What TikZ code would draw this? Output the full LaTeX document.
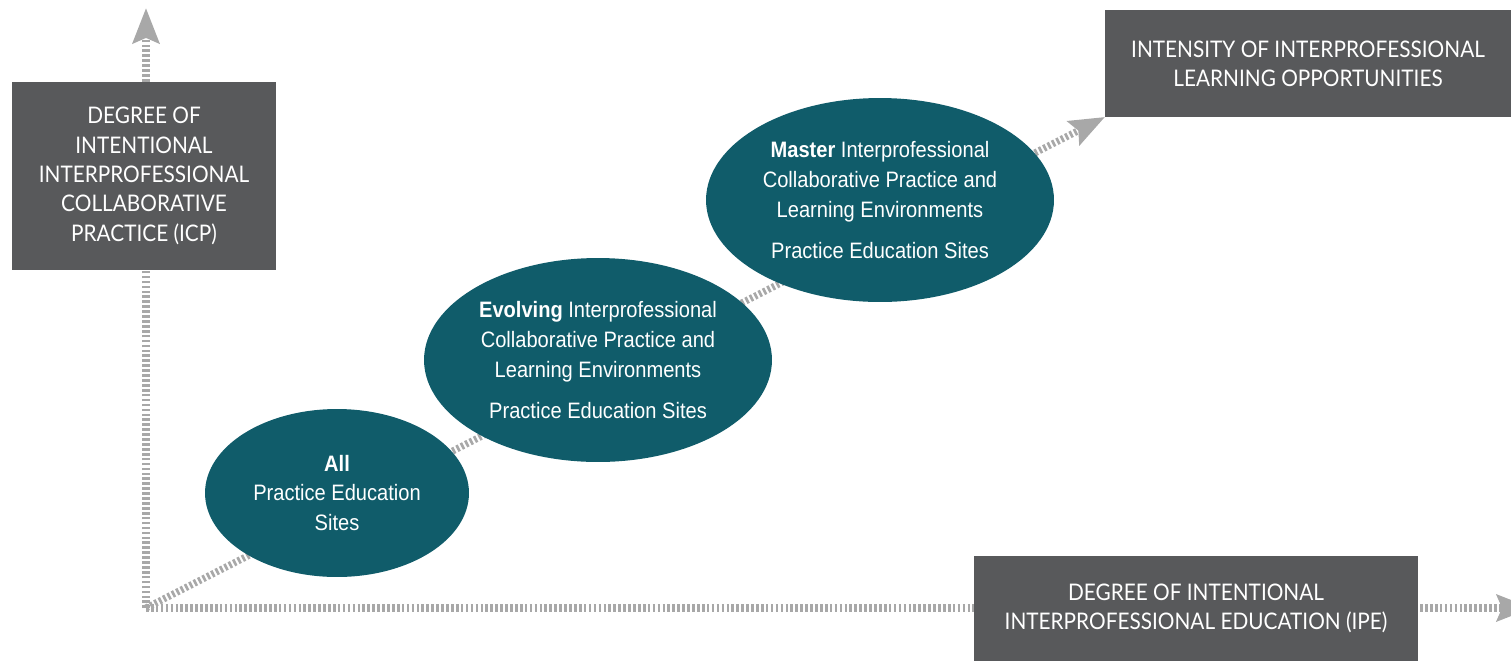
\documentclass[tikz,border=0pt]{standalone}
\usepackage{fontspec}
\setmainfont{Lato}[FakeStretch=0.91]
\newfontfamily\narrowsans{Liberation Sans}[FakeStretch=0.9]
\usetikzlibrary{shapes.geometric,arrows.meta}

\definecolor{siteteal}{RGB}{16,92,106}
\definecolor{boxgrey}{RGB}{88,89,91}
\definecolor{axisgrey}{RGB}{168,168,168}

\tikzset{
    axis/.style={axisgrey, line width=4pt, dash pattern=on 1.5pt off 1.3pt,
        -{Stealth[length=20pt, width=15pt, inset=3pt]}},
    labelbox/.style={fill=boxgrey, text=white, align=center, inner sep=0pt,
        font=\fontsize{13}{16.7}\selectfont},
    site/.style={ellipse, fill=siteteal, text=white, align=center, inner sep=0pt,
        font=\narrowsans\fontsize{12.7}{17}\selectfont}
}

\begin{document}
\begin{tikzpicture}[x=0.02cm, y=-0.02cm]
                    \useasboundingbox (0,0) rectangle (1511,660);

                    % axes
                    \coordinate (o) at (146,608);
                    \coordinate (ytip) at (146,8);
                    \coordinate (xtip) at (1532,608);
                    \coordinate (itip) at (1105,117);
                    \draw[axis] (o) -- (ytip);
                    \draw[axis] (o) -- (xtip);
                    \draw[axis] (o) -- (itip);

                    % label boxes
                    \node (icp) at (144,176) [labelbox, minimum width=5.28cm, minimum height=3.76cm]
                        {DEGREE OF\\INTENTIONAL\\INTERPROFESSIONAL\\COLLABORATIVE\\PRACTICE (ICP)};
                    \node (intensity) at (1308,63.5) [labelbox, minimum width=8.12cm, minimum height=2.14cm]
                        {INTENSITY OF INTERPROFESSIONAL\\LEARNING OPPORTUNITIES};
                    \node (ipe) at (1196,608.5) [labelbox, minimum width=8.88cm, minimum height=2.1cm]
                        {DEGREE OF INTENTIONAL\\INTERPROFESSIONAL EDUCATION (IPE)};

                    % sites
                    \node (all) at (337,493) [site, minimum width=5.28cm, minimum height=3.36cm]
                        {\textbf{All}\\Practice Education\\Sites};
                    \node (evolving) at (598,360) [site, minimum width=6.96cm, minimum height=4.08cm]
                        {\textbf{Evolving} Interprofessional\\Collaborative Practice and\\Learning Environments\\[6pt]Practice Education Sites};
                    \node (master) at (880,200) [site, minimum width=6.96cm, minimum height=4.08cm]
                        {\textbf{Master} Interprofessional\\Collaborative Practice and\\Learning Environments\\[6pt]Practice Education Sites};
                \end{tikzpicture}
\end{document}
